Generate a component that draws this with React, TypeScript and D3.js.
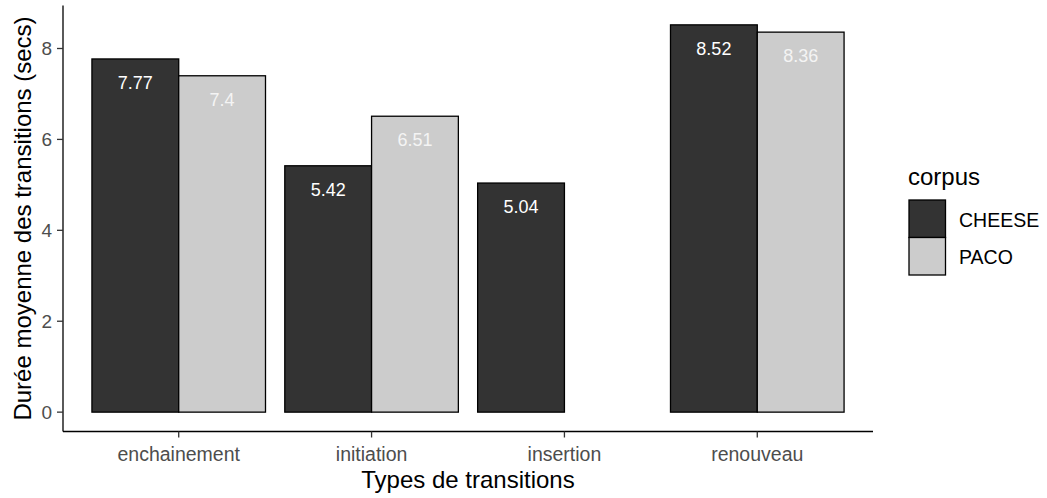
import React from 'react';
import * as d3 from 'd3';

const categories = ['enchainement', 'initiation', 'insertion', 'renouveau'];
const series = ['CHEESE', 'PACO'];
const cheeseValues: (number | null)[] = [7.77, 5.42, 5.04, 8.52];
const pacoValues: (number | null)[] = [7.4, 6.51, null, 8.36];
const yTicks = [0, 2, 4, 6, 8];
const fills = ['#333333', '#cccccc'];

const W = 1047;
const H = 498;
const panel = { left: 63, right: 873, top: 5.5, bottom: 431.5 };
const font = '"Liberation Sans", Arial, sans-serif';

const App: React.FC = () => {
  const maxV = d3.max([...cheeseValues, ...pacoValues].map(v => v ?? 0)) as number;
  const pad = maxV * 0.05;
  const y = d3.scaleLinear().domain([-pad, maxV + pad]).range([panel.bottom, panel.top]);
  // discrete axis with ggplot's 0.6 expansion on each side
  const x = d3.scaleLinear().domain([0.4, categories.length + 0.6]).range([panel.left, panel.right]);
  const unit = x(2) - x(1);
  const barW = (unit * 0.9) / series.length;

  const valueSets = [cheeseValues, pacoValues];

  return (
    <svg width={W} height={H} style={{ position: 'absolute', left: 0, top: 0, background: '#fff' }} fontFamily={font}>
      {/* bars */}
      {categories.map((cat, i) => {
        const cx = x(i + 1);
        return (
          <g key={cat}>
            {valueSets.map((vals, s) => {
              const v = vals[i];
              if (v == null) return null;
              const bx = cx - unit * 0.45 + s * barW;
              return (
                <g key={s}>
                  <rect x={bx} y={y(v)} width={barW} height={y(0) - y(v)} fill={fills[s]} stroke="#000" strokeWidth={1.3} />
                  <text x={bx + barW / 2} y={y(v) + 30} textAnchor="middle" fontSize={18} fill={s === 0 ? '#ffffff' : '#f4f4f4'}>
                    {v}
                  </text>
                </g>
              );
            })}
          </g>
        );
      })}

      {/* axes */}
      <line x1={panel.left} x2={panel.left} y1={panel.top} y2={panel.bottom} stroke="#000" strokeWidth={1.3} />
      <line x1={panel.left} x2={panel.right} y1={panel.bottom} y2={panel.bottom} stroke="#000" strokeWidth={1.3} />
      {yTicks.map(t => (
        <g key={t}>
          <line x1={panel.left - 6} x2={panel.left} y1={y(t)} y2={y(t)} stroke="#333333" strokeWidth={1.3} />
          <text x={panel.left - 11} y={y(t)} dy="0.36em" textAnchor="end" fontSize={19} fill="#4d4d4d">{t}</text>
        </g>
      ))}
      {categories.map((cat, i) => (
        <g key={cat}>
          <line x1={x(i + 1)} x2={x(i + 1)} y1={panel.bottom} y2={panel.bottom + 6} stroke="#333333" strokeWidth={1.3} />
          <text x={x(i + 1)} y={461} textAnchor="middle" fontSize={19.5} fill="#4d4d4d">{cat}</text>
        </g>
      ))}

      {/* axis titles */}
      <text x={(panel.left + panel.right) / 2} y={488} textAnchor="middle" fontSize={24} fill="#000">Types de transitions</text>
      <text transform={`translate(31,${(panel.top + panel.bottom) / 2}) rotate(-90)`} textAnchor="middle" fontSize={24} fill="#000">
        Durée moyenne des transitions (secs)
      </text>

      {/* legend */}
      <text x={908} y={185} fontSize={24} fill="#000">corpus</text>
      {series.map((s, k) => (
        <g key={s}>
          <rect x={909} y={200 + k * 37.5} width={36.5} height={37.5} fill={fills[k]} stroke="#000" strokeWidth={1.3} />
          <text x={959} y={227 + k * 36.5} fontSize={19.5} fill="#000">{s}</text>
        </g>
      ))}
    </svg>
  );
};

export default App;
